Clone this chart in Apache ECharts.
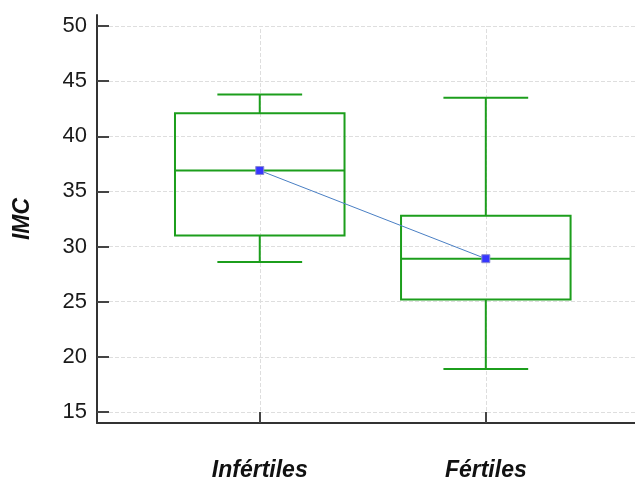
<!DOCTYPE html>
<html>
<head>
<meta charset="utf-8">
<script src="https://cdn.jsdelivr.net/npm/echarts@6/dist/echarts.min.js"></script>
<style>
  html, body { margin:0; padding:0; background:#fff; }
  #chart { width:635px; height:482px; }
</style>
</head>
<body>
<div id="chart"></div>
<script>
(function(){
  // data
  const groups  = ['Infértiles', 'Fértiles'];
  const mins    = [28.6, 18.9];
  const q1s     = [31.0, 25.2];
  const medians = [36.9, 28.9];
  const q3s     = [42.1, 32.8];
  const maxs    = [43.8, 43.5];
  const means   = [36.9, 28.9];
  const yTicks  = [15, 20, 25, 30, 35, 40, 45, 50];
  const Y_MIN = 14, Y_MAX = 51;

  const GREEN = '#1c9e1c';
  const idx = groups.map((g, i) => i);

  const boxData  = idx.map(i => [i, mins[i], q1s[i], medians[i], q3s[i], maxs[i]]);
  const meanData = idx.map(i => [i, means[i]]);

  const gridStyle = { color:'#dedede', width:1, type:[4,2] };

  function renderBox(params, api) {
    const x = api.value(0);
    const pMin = api.coord([x, api.value(1)]);
    const pQ1  = api.coord([x, api.value(2)]);
    const pMed = api.coord([x, api.value(3)]);
    const pQ3  = api.coord([x, api.value(4)]);
    const pMax = api.coord([x, api.value(5)]);
    const boxW = api.size([0.75, 0])[0];
    const capW = boxW / 2;
    const cx = pMed[0];
    const st = { stroke: GREEN, lineWidth: 2, fill: null };
    const line = (x1, y1, x2, y2) => ({ type:'line', shape:{x1, y1, x2, y2}, style: st });
    return {
      type: 'group',
      children: [
        line(cx, pMax[1], cx, pQ3[1]),
        line(cx, pQ1[1], cx, pMin[1]),
        line(cx - capW/2, pMax[1], cx + capW/2, pMax[1]),
        line(cx - capW/2, pMin[1], cx + capW/2, pMin[1]),
        { type:'rect', shape:{ x: cx - boxW/2, y: pQ3[1], width: boxW, height: pQ1[1] - pQ3[1] },
          style:{ stroke: GREEN, lineWidth: 2, fill: 'rgba(0,0,0,0)' } },
        line(cx - boxW/2, pMed[1], cx + boxW/2, pMed[1])
      ]
    };
  }

  const chart = echarts.init(document.getElementById('chart'), null, { renderer:'canvas' });

  chart.setOption({
    backgroundColor: '#fff',
    animation: false,
    textStyle: { fontFamily: '"Liberation Sans", Arial, sans-serif' },
    grid: { left: 97, right: 0, top: 15, bottom: 59, containLabel: false },
    xAxis: {
      type: 'value',
      min: -0.72, max: 1.66,
      z: 10,
      axisLine: { show: true, onZero: false, lineStyle: { color:'#333', width: 2 } },
      axisTick: { show: true, inside: true, length: 11, customValues: idx, lineStyle: { color:'#444', width: 2 } },
      axisLabel: {
        customValues: idx,
        formatter: v => groups[Math.round(v)] || '',
        margin: 36, color: '#111', fontSize: 23, fontWeight: 'bold', fontStyle: 'italic'
      },
      splitLine: { show: false }
    },
    yAxis: {
      type: 'value',
      min: Y_MIN, max: Y_MAX,
      z: 10,
      name: 'IMC', nameLocation: 'middle', nameRotate: 90, nameGap: 63,
      nameTextStyle: { fontSize: 23, fontWeight: 'bold', fontStyle: 'italic', color: '#111' },
      axisLine: { show: true, onZero: false, lineStyle: { color:'#333', width: 2 } },
      axisTick: { show: true, inside: true, length: 12, customValues: yTicks, lineStyle: { color:'#444', width: 2 } },
      axisLabel: { customValues: yTicks, margin: 10, color: '#1a1a1a', fontSize: 22 },
      splitLine: { show: false }
    },
    series: [
      {
        // grid lines, kept under everything else
        type: 'line', data: [], silent: true, z: 0,
        markLine: {
          silent: true, symbol: 'none', animation: false, z: 0,
          label: { show: false },
          lineStyle: gridStyle,
          data: yTicks.map(t => ({ yAxis: t }))
            .concat(idx.map(i => [{ coord: [i, Y_MIN] }, { coord: [i, yTicks[yTicks.length - 1]] }]))
        }
      },
      {
        type: 'custom',
        renderItem: renderBox,
        encode: { x: 0, y: [1, 2, 3, 4, 5] },
        data: boxData,
        z: 5
      },
      {
        type: 'line',
        data: meanData,
        symbol: 'rect', symbolSize: 8,
        lineStyle: { color: '#4a7fc4', width: 1 },
        itemStyle: { color: '#3636ff', borderColor: '#8a8ad0', borderWidth: 1 },
        z: 6
      }
    ]
  });

  window.addEventListener('resize', () => chart.resize());
})();
</script>
</body>
</html>
